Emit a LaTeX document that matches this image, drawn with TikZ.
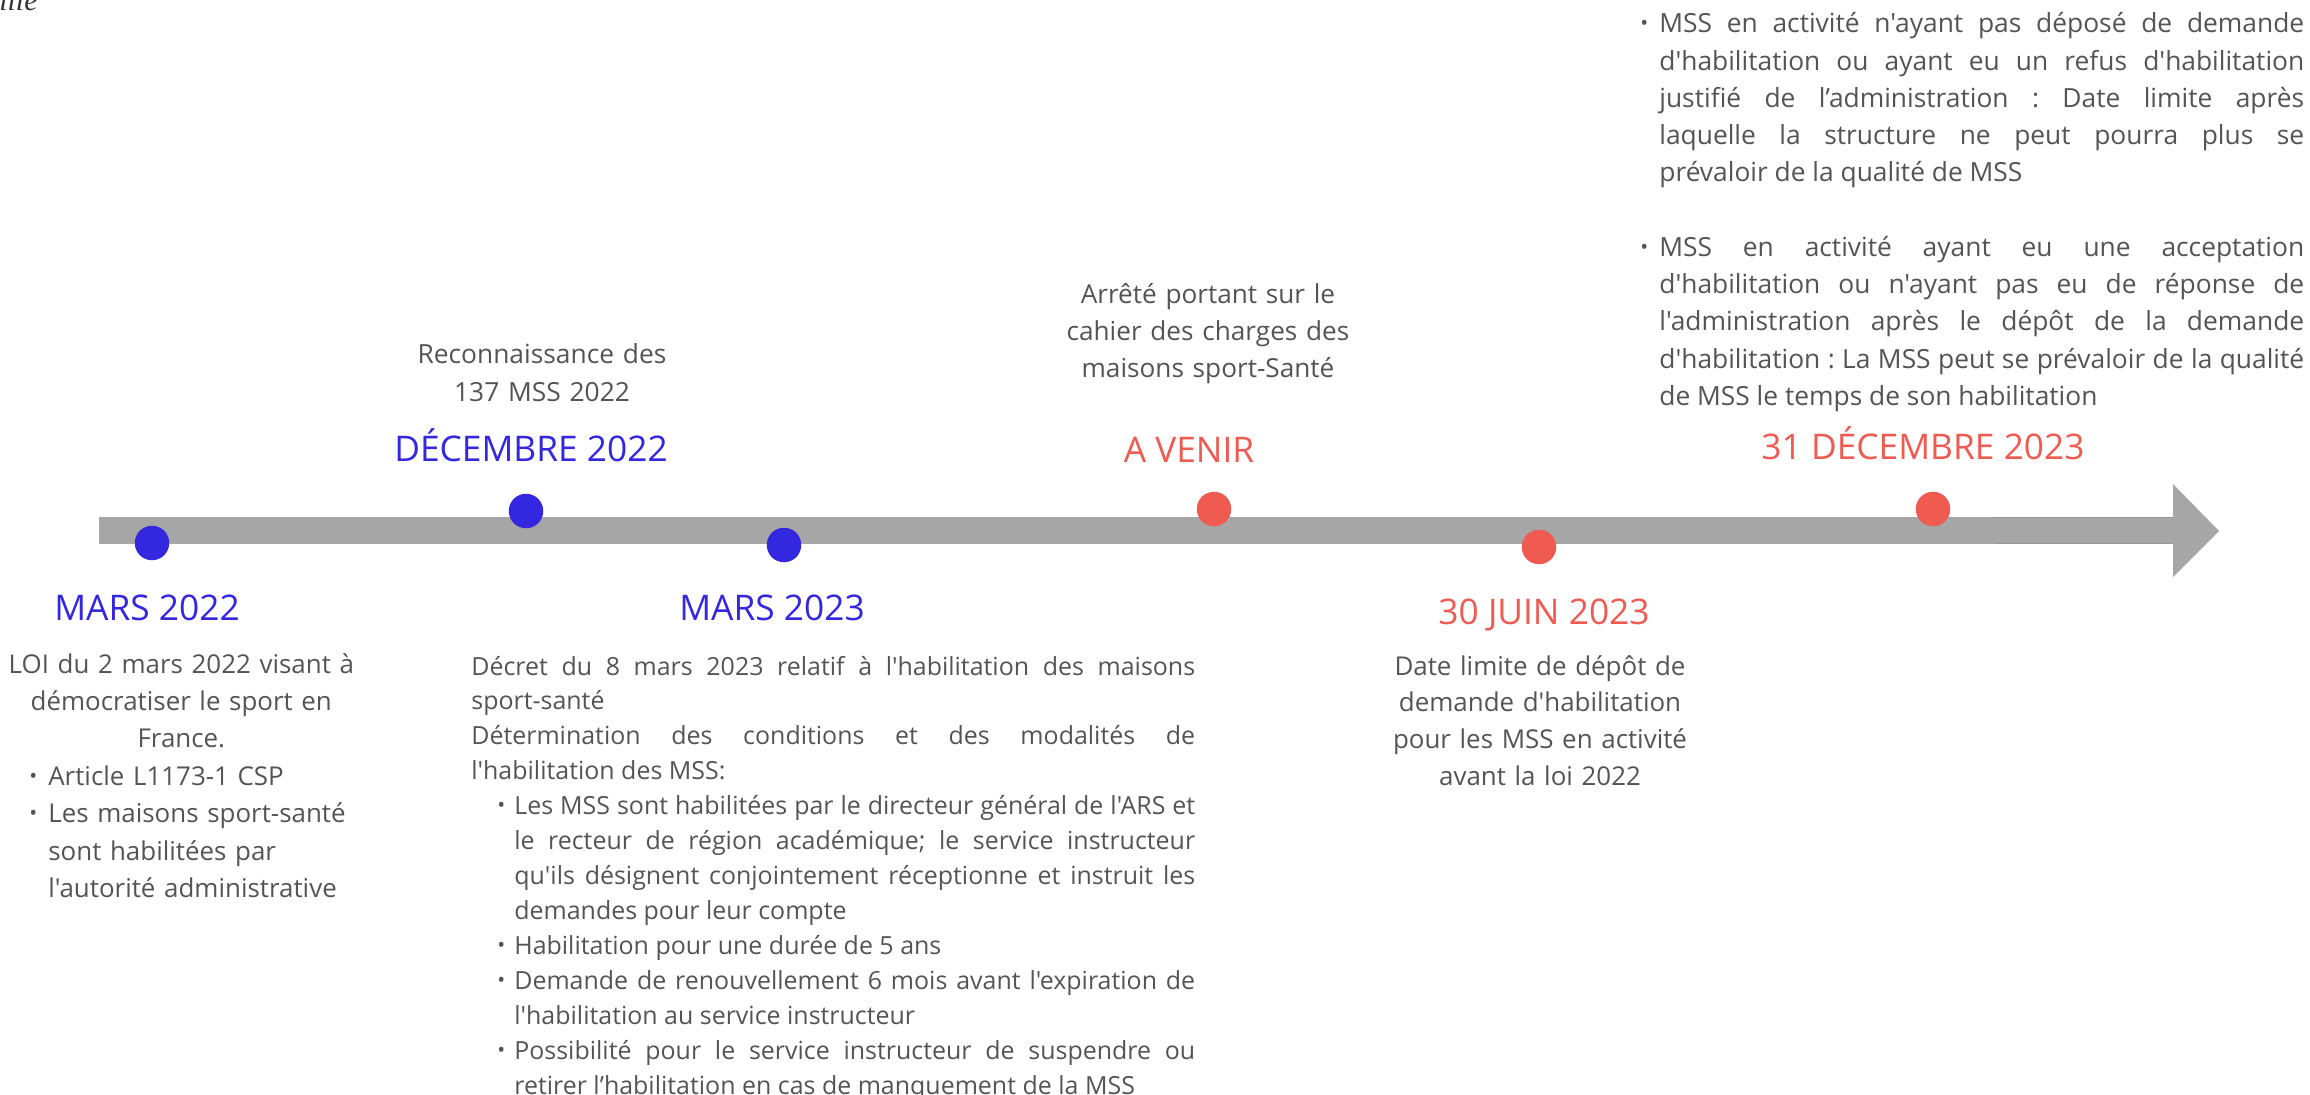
\documentclass[tikz,border=0pt]{standalone}
\usepackage{fontspec}
\setmainfont{Open Sans}[Ligatures=TeXOff]
\newfontfamily\titrefont{Liberation Serif}
\usepackage{xcolor}
\usepackage{tikz}
\definecolor{bleu}{HTML}{3427E0}
\definecolor{rouge}{HTML}{EF5B51}
\definecolor{gris}{HTML}{A6A6A6}
\definecolor{texte}{HTML}{545454}
\frenchspacing
\newcommand{\petitpoint}{\raisebox{0.08em}{\fontsize{12}{12}\selectfont\textbullet}}
\newcommand{\puce}[3]{\noindent\hangindent=#2\hangafter=1\hspace*{#1}\makebox[\dimexpr#2-#1\relax][l]{\petitpoint}#3\par}

\begin{document}
\begin{tikzpicture}[x=0.02cm, y=-0.02cm,
  corps/.style={text=texte, inner sep=0pt, font=\fontsize{14.9}{21.2}\selectfont},
  datebleu/.style={text=bleu, inner sep=0pt, anchor=base, font=\fontsize{20.1}{24}\selectfont},
  daterouge/.style={datebleu, text=rouge},
  pastille/.style={circle, fill=#1, inner sep=0pt, minimum size=0.69cm}]
\useasboundingbox (0,0) rectangle (2310,1095);
\node[anchor=base west, inner sep=0pt, text=black!80, font=\titrefont\itshape\fontsize{17}{17}\selectfont] (coupe) at (-1,11) {ille};
\fill[gris] (99,517) rectangle (2173,544);
\fill[gris] (2173,484) -- (2219,531) -- (2173,577) -- cycle;
\draw[gris!90!black, line width=0.5pt] (1995,517.3) -- (2173,517.3) (1995,543.7) -- (2173,543.7);
\node[pastille=bleu] (p1) at (152,543) {};
\node[pastille=bleu] (p2) at (526,511) {};
\node[pastille=bleu] (p3) at (784,545) {};
\node[pastille=rouge] (p4) at (1214,509) {};
\node[pastille=rouge] (p5) at (1539,547) {};
\node[pastille=rouge] (p6) at (1933,509) {};
\node[datebleu] (mars22) at (147,620) {MARS 2022};
\node[datebleu] (dec22) at (531,461) {DÉCEMBRE 2022};
\node[datebleu] (mars23) at (772,620) {MARS 2023};
\node[daterouge] (avenir) at (1189,462) {A VENIR};
\node[daterouge] (juin23) at (1544,624) {30 JUIN 2023};
\node[daterouge] (dec23) at (1923,459) {31 DÉCEMBRE 2023};
\node[corps, text width=6cm, align=center, anchor=base, font=\fontsize{15}{21.9}\selectfont] (recon) at (542,363) {Reconnaissance des\\ 137 MSS 2022};
\node[corps, text width=6cm, align=center, anchor=base] (arrete) at (1208,303) {Arrêté portant sur le\\ cahier des charges des\\ maisons sport-Santé};
\node[corps, text width=6.5cm, align=center, anchor=base, font=\fontsize{14.75}{20.9}\selectfont] (limite) at (1540,675) {Date limite de dépôt de\\ demande d'habilitation\\ pour les MSS en activité\\ avant la loi 2022};
\node[corps, text width=7.1cm, align=center, anchor=base west, font=\fontsize{14.75}{21.3}\selectfont] (loi) at (3.5,673) {LOI du 2 mars 2022 visant à\\ démocratiser le sport en\\ France.\par\raggedright
\puce{0.51cm}{0.89cm}{Article L1173-1 CSP}
\puce{0.51cm}{0.89cm}{Les maisons sport-santé\newline sont habilitées par\newline l'autorité administrative}};
\node[corps, text width=14.48cm, align=justify, anchor=base west, font=\fontsize{14.2}{19.9}\selectfont] (decret) at (471,675) {Décret du 8 mars 2023 relatif à l'habilitation des maisons\linebreak sport-santé\par
Détermination des conditions et des modalités de\linebreak l'habilitation des MSS:\par
\puce{0.52cm}{0.86cm}{Les MSS sont habilitées par le directeur général de l'ARS et\linebreak le recteur de région académique; le service instructeur\linebreak qu'ils désignent conjointement réceptionne et instruit les\linebreak demandes pour leur compte}
\puce{0.52cm}{0.86cm}{Habilitation pour une durée de 5 ans}
\puce{0.52cm}{0.86cm}{Demande de renouvellement 6 mois avant l'expiration de\linebreak l'habilitation au service instructeur}
\puce{0.52cm}{0.86cm}{Possibilité pour le service instructeur de suspendre ou\linebreak retirer l’habilitation en cas de manquement de la MSS}};
\node[corps, text width=13.72cm, align=justify, anchor=base west, font=\fontsize{15}{21.2}\selectfont] (regles) at (1618,33) {\puce{0.44cm}{0.82cm}{MSS en activité n'ayant pas déposé de demande\linebreak d'habilitation ou ayant eu un refus d'habilitation\linebreak justifié de l’administration : Date limite après\linebreak laquelle la structure ne peut pourra plus se\linebreak prévaloir de la qualité de MSS}\vspace{\baselineskip}
\puce{0.44cm}{0.82cm}{MSS en activité ayant eu une acceptation\linebreak d'habilitation ou n'ayant pas eu de réponse de\linebreak l'administration après le dépôt de la demande\linebreak d'habilitation : La MSS peut se prévaloir de la qualité\linebreak de MSS le temps de son habilitation}};
\end{tikzpicture}
\end{document}
